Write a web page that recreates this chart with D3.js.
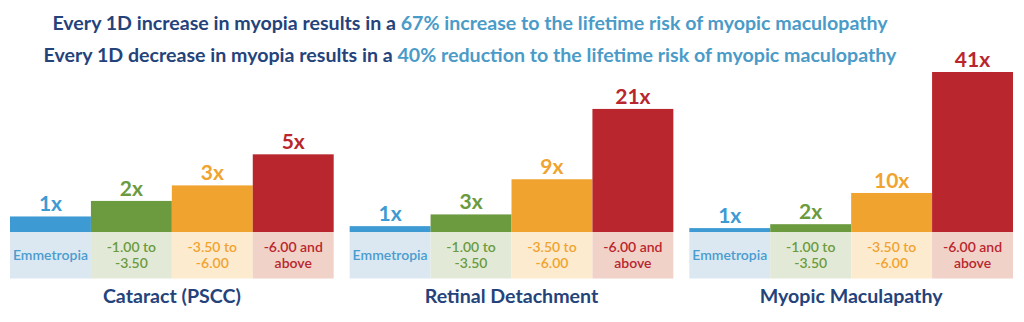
<!DOCTYPE html>
<html><head><meta charset="utf-8">
<script src="https://cdn.jsdelivr.net/npm/d3@7/dist/d3.min.js"></script>
<style>
html,body{margin:0;padding:0;background:#fff;}
svg{display:block;font-family:Lato, "Open Sans", sans-serif;}
</style></head>
<body>
<svg id="c" width="1024" height="322"></svg>
<script>
// ---- data ----
const panels = ["Cataract (PSCC)", "Retinal Detachment", "Myopic Maculapathy"];
const categories = ["Emmetropia", "-1.00 to -3.50", "-3.50 to -6.00", "-6.00 and above"];
const categoryLines = [["Emmetropia"], ["-1.00 to", "-3.50"], ["-3.50 to", "-6.00"], ["-6.00 and", "above"]];
const cataractValues = [1, 2, 3, 5];
const retinalValues = [1, 3, 9, 21];
const maculopathyValues = [1, 2, 10, 41];
const valueLabels = [["1x","2x","3x","5x"], ["1x","3x","9x","21x"], ["1x","2x","10x","41x"]];
const titleLine1 = ["Every 1D increase in myopia results in a ", "67% increase to the lifetime risk of myopic maculopathy"];
const titleLine2 = ["Every 1D decrease in myopia results in a ", "40% reduction to the lifetime risk of myopic maculopathy"];
// per-panel y domain max (each panel has its own scale)
const panelDomainMax = [10.3, 27.3, 41];

// ---- style ----
const barColors = ["#3d9ad2", "#6c9a3e", "#f0a32f", "#b9262d"];
const bandColors = ["#dbe8f2", "#e2ead7", "#fdebcf", "#f0d2c9"];
const textColors = ["#4a9ccf", "#6c9a3e", "#f0a32f", "#b9262d"];
const navy = "#24437b", teal = "#4a9bc8";

const svg = d3.select("#c");
const values = [cataractValues, retinalValues, maculopathyValues];
const baseY = 232, bandBottom = 278.5;

// titles
function titleLine(parts, y, len) {
  const t = svg.append("text").attr("x", 470).attr("y", y)
    .attr("text-anchor", "middle").attr("font-size", 19.6).attr("font-weight", 700);
  t.append("tspan").attr("fill", navy).text(parts[0]);
  t.append("tspan").attr("fill", teal).text(parts[1]);
}
titleLine(titleLine1, 30);
titleLine(titleLine2, 61.5);

const xPanel = d3.scaleBand().domain(panels).range([10, 1013]).paddingInner(0.047).paddingOuter(0);

panels.forEach((p, pi) => {
  const g = svg.append("g").attr("transform", `translate(${xPanel(p)},0)`);
  const x = d3.scaleBand().domain(categories).range([0, xPanel.bandwidth()]).padding(0);
  const y = d3.scaleLinear().domain([0, panelDomainMax[pi]]).range([baseY, baseY - 160]);
  const data = categories.map((c, i) => ({c, i, v: values[pi][i], label: valueLabels[pi][i]}));

  // label band
  g.selectAll("rect.band").data(data).join("rect").attr("class", "band")
    .attr("x", d => x(d.c)).attr("y", baseY).attr("width", x.bandwidth()).attr("height", bandBottom - baseY)
    .attr("fill", d => bandColors[d.i]);
  // bars
  g.selectAll("rect.bar").data(data).join("rect").attr("class", "bar")
    .attr("x", d => x(d.c)).attr("y", d => y(d.v)).attr("width", x.bandwidth()).attr("height", d => baseY - y(d.v))
    .attr("fill", d => barColors[d.i]);
  // value labels
  g.selectAll("text.val").data(data).join("text").attr("class", "val")
    .attr("x", d => x(d.c) + x.bandwidth() / 2).attr("y", d => y(d.v) - 5)
    .attr("text-anchor", "middle").attr("font-size", 21).attr("font-weight", 700)
    .attr("fill", d => barColors[d.i]).text(d => d.label);
  // category labels
  data.forEach(d => {
    const lines = categoryLines[d.i];
    const t = g.append("text").attr("text-anchor", "middle").attr("font-size", 14).attr("font-weight", 600)
      .attr("fill", textColors[d.i]);
    if (lines.length === 1) {
      t.append("tspan").attr("x", x(d.c) + x.bandwidth() / 2).attr("y", 260).text(lines[0]);
    } else {
      lines.forEach((l, li) => t.append("tspan").attr("x", x(d.c) + x.bandwidth() / 2).attr("y", 251.5 + li * 16.5).text(l));
    }
  });
  // panel title
  g.append("text").attr("x", xPanel.bandwidth() / 2).attr("y", 303).attr("text-anchor", "middle")
    .attr("font-size", 19.6).attr("font-weight", 700).attr("fill", navy).text(p);
});
</script>
</body></html>
